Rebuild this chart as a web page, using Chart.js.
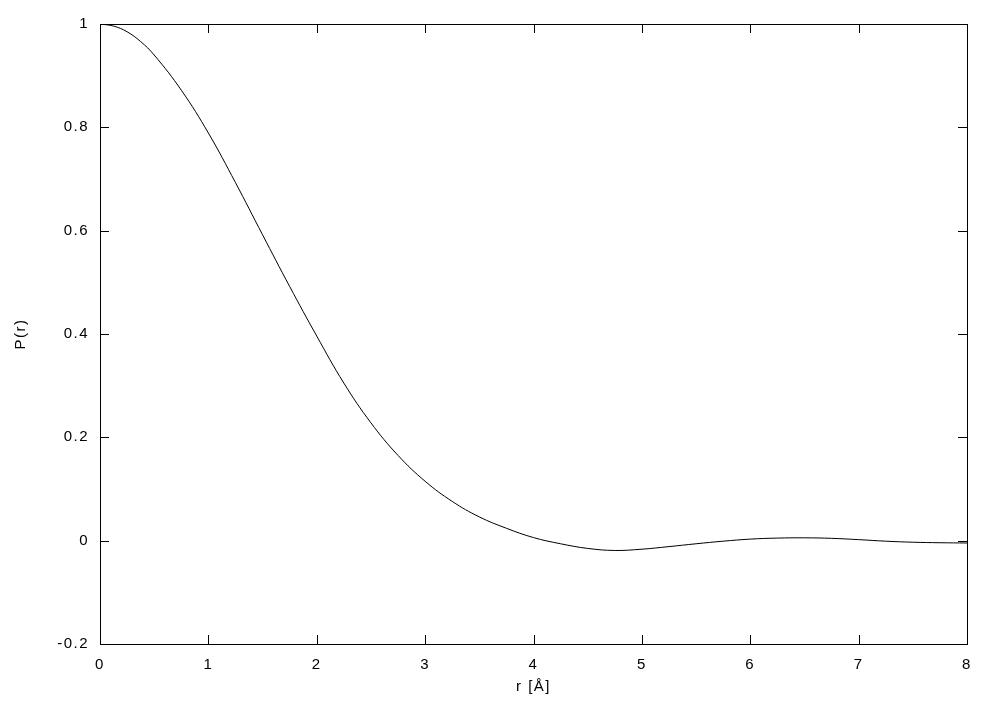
<!DOCTYPE html>
<html>
<head>
<meta charset="utf-8">
<script src="https://cdn.jsdelivr.net/npm/chart.js@4/dist/chart.umd.min.js"></script>
<style>
  html, body { margin: 0; padding: 0; background: #fff; }
  #wrap { width: 1002px; height: 702px; }
</style>
</head>
<body>
<div id="wrap"><canvas id="pr"></canvas></div>
<script>
const rValues = [0, 0.125, 0.25, 0.375, 0.5, 0.75, 1, 1.25, 1.5, 1.75, 2, 2.25, 2.5, 2.75, 3, 3.25, 3.5, 3.75,
  4, 4.25, 4.5, 4.75, 5, 5.25, 5.5, 5.75, 6, 6.25, 6.5, 6.75, 7, 7.25, 7.5, 7.75, 8];
const pValues = [1.0, 0.996, 0.985, 0.966, 0.94, 0.872, 0.789, 0.693, 0.592, 0.492, 0.396, 0.305, 0.228, 0.165, 0.115, 0.076, 0.046, 0.024,
  0.006, -0.006, -0.015, -0.019, -0.0165, -0.0115, -0.006, -0.001, 0.003, 0.005, 0.0055, 0.0045, 0.002, -0.001, -0.003, -0.004, -0.0045];
const xTicks = [0, 1, 2, 3, 4, 5, 6, 7, 8];
const yTicks = [-0.2, 0, 0.2, 0.4, 0.6, 0.8, 1];

const font = { family: '"Liberation Sans", Arial, sans-serif', size: 15 };

// gnuplot text is a little spread out
const spacing = {
  id: 'spacing',
  beforeDraw(chart) { chart.ctx.letterSpacing = '1.5px'; }
};

// gnuplot style frame: box on all four sides with inward ticks
const frameTicks = {
  id: 'frameTicks',
  afterDraw(chart) {
    const { ctx, chartArea: a, scales } = chart;
    const len = 9;
    ctx.save();
    ctx.strokeStyle = '#000';
    ctx.lineWidth = 1;
    ctx.strokeRect(a.left + 0.5, a.top + 0.5, a.right - a.left, a.bottom - a.top);
    ctx.beginPath();
    xTicks.forEach(v => {
      const px = Math.round(scales.x.getPixelForValue(v)) + 0.5;
      ctx.moveTo(px, a.bottom); ctx.lineTo(px, a.bottom - len);
      ctx.moveTo(px, a.top); ctx.lineTo(px, a.top + len);
    });
    yTicks.forEach(v => {
      const py = Math.round(scales.y.getPixelForValue(v)) + 0.5;
      ctx.moveTo(a.left, py); ctx.lineTo(a.left + len, py);
      ctx.moveTo(a.right, py); ctx.lineTo(a.right - len, py);
    });
    ctx.stroke();
    ctx.restore();
  }
};

new Chart(document.getElementById('pr'), {
  type: 'line',
  data: {
    datasets: [{
      label: 'P(r)',
      data: rValues.map((r, i) => ({ x: r, y: pValues[i] })),
      borderColor: '#000',
      borderWidth: 1,
      pointRadius: 0,
      fill: false,
      tension: 0.4
    }]
  },
  options: {
    responsive: true,
    maintainAspectRatio: false,
    animation: false,
    layout: { padding: { top: 24, right: 35, left: 0, bottom: 0 } },
    plugins: { legend: { display: false }, tooltip: { enabled: false } },
    scales: {
      x: {
        type: 'linear',
        min: 0, max: 8,
        afterFit: s => { s.height = 58; },
        afterBuildTicks: s => { s.ticks = xTicks.map(v => ({ value: v })); },
        grid: { display: false, drawTicks: false },
        border: { display: false },
        ticks: { color: '#000', font, padding: 12, maxRotation: 0 },
        title: { display: true, text: 'r [Å]', color: '#000', font, padding: { top: 6, bottom: 6 } }
      },
      y: {
        min: -0.2, max: 1,
        afterFit: s => { s.width = 100; },
        afterBuildTicks: s => { s.ticks = yTicks.map(v => ({ value: v })); },
        grid: { display: false, drawTicks: false },
        border: { display: false },
        ticks: {
          color: '#000', font, padding: 11,
          callback: v => String(Math.round(v * 10) / 10)
        },
        title: { display: true, text: 'P(r)', color: '#000', font, padding: { top: 12, bottom: 0 } }
      }
    }
  },
  plugins: [spacing, frameTicks]
});
</script>
</body>
</html>
